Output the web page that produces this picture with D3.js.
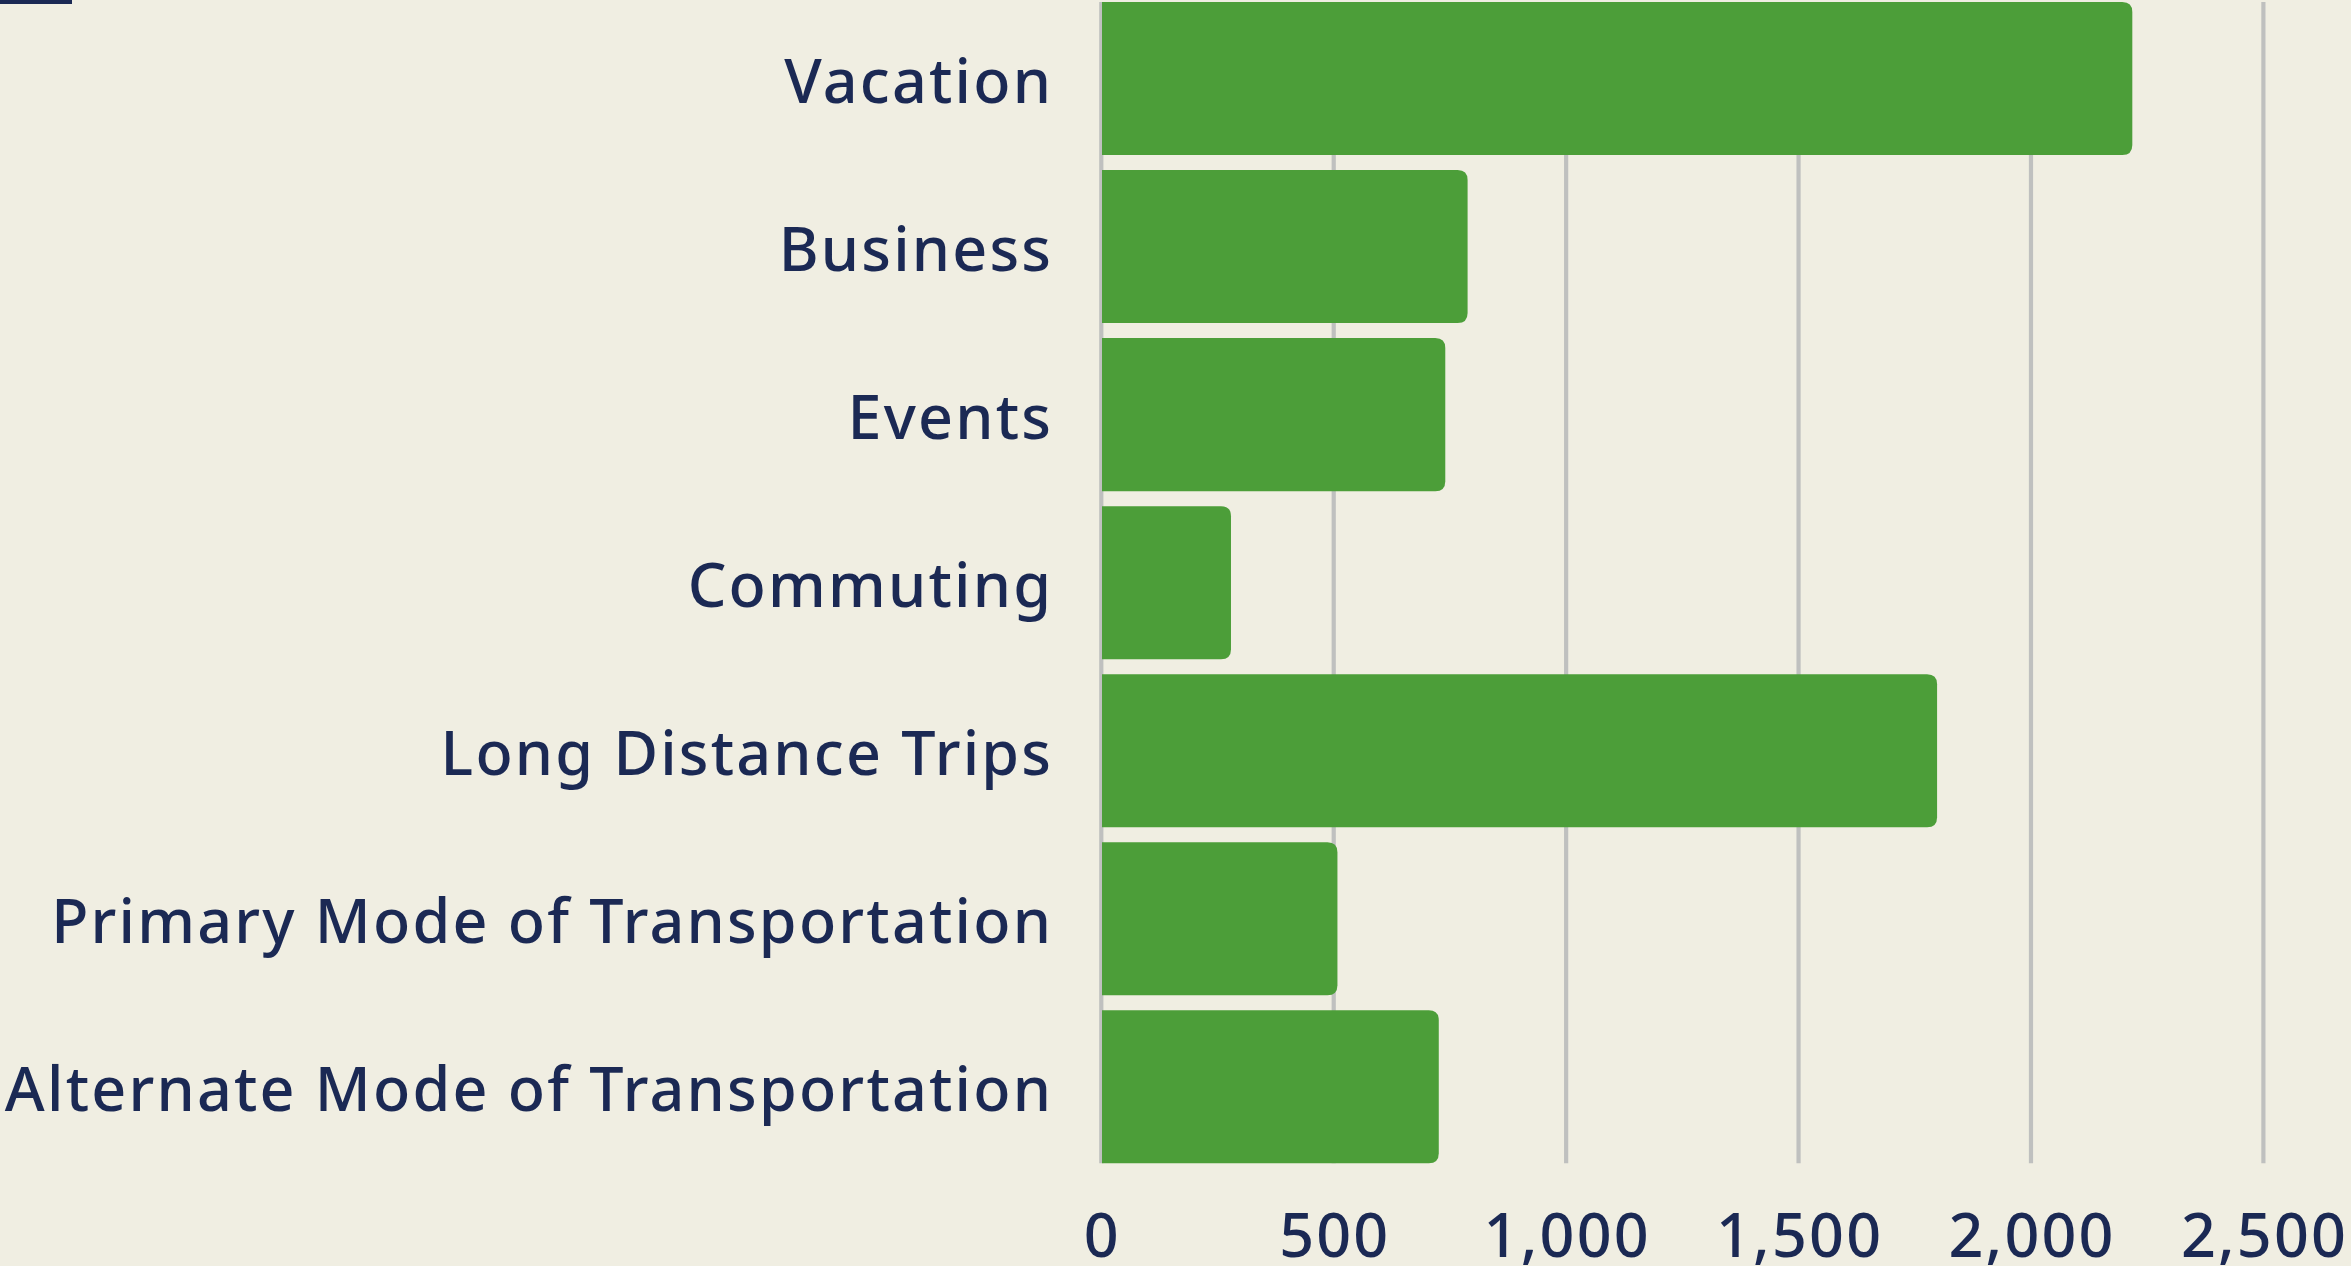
<!DOCTYPE html>
<html>
<head>
<meta charset="utf-8">
<script src="https://cdn.jsdelivr.net/npm/d3@7"></script>
<style>
  html, body { margin: 0; padding: 0; background: #f0eee2; }
  svg { display: block; }
</style>
</head>
<body>
<svg id="chart" width="2351" height="1266"></svg>
<script>
const categories = [
  "Vacation",
  "Business",
  "Events",
  "Commuting",
  "Long Distance Trips",
  "Primary Mode of Transportation",
  "Alternate Mode of Transportation"
];
const values = [2218, 788, 740, 279, 1798, 508, 726];
const tickValues = [0, 500, 1000, 1500, 2000, 2500];
const tickLabels = ["0", "500", "1,000", "1,500", "2,000", "2,500"];

const W = 2351, H = 1266;
const svg = d3.select("#chart");
const bg = "#f0eee2", green = "#4c9e39", navy = "#1b2954", gridColor = "#bfc0bf";
const fontFamily = "'Noto Sans', 'Open Sans', sans-serif";

svg.append("rect").attr("width", W).attr("height", H).attr("fill", bg);
// small dark accent at top-left
svg.append("rect").attr("x", 0).attr("y", 0).attr("width", 72).attr("height", 4).attr("fill", navy);

const x = d3.scaleLinear().domain([0, 2500]).range([1101.3, 2263.4]);
const y = d3.scaleBand().domain(categories).range([2, 1163.3]).paddingInner(15 / 168).paddingOuter(0);

// gridlines
svg.append("g").selectAll("line").data(tickValues).join("line")
  .attr("x1", d => x(d)).attr("x2", d => x(d))
  .attr("y1", 2).attr("y2", 1163.3)
  .attr("stroke", gridColor).attr("stroke-width", 4.2);

// bars with rounded right corners
const r = 10;
function barPath(x0, x1, y0, h) {
  const rr = Math.min(r, (x1 - x0) / 2, h / 2);
  return `M${x0},${y0} H${x1 - rr} Q${x1},${y0} ${x1},${y0 + rr} V${y0 + h - rr} Q${x1},${y0 + h} ${x1 - rr},${y0 + h} H${x0} Z`;
}
svg.append("g").selectAll("path").data(categories).join("path")
  .attr("d", (c, i) => barPath(x(0) + 0.7, x(values[i]), y(c), y.bandwidth()))
  .attr("fill", green);

// category labels
const fontSize = 61;
const ls = 2.2;
svg.append("g").selectAll("text").data(categories).join("text")
  .attr("x", 1051 + ls)
  .attr("y", c => y(c) + y.bandwidth() / 2 + 24)
  .attr("text-anchor", "end")
  .attr("font-family", fontFamily)
  .attr("font-weight", 500)
  .attr("font-size", fontSize)
  .attr("letter-spacing", ls)
  .attr("fill", navy)
  .text(c => c);

// x axis tick labels
svg.append("g").selectAll("text").data(tickValues).join("text")
  .attr("x", d => x(d) + ls / 2)
  .attr("y", 1256.5)
  .attr("text-anchor", "middle")
  .attr("font-family", fontFamily)
  .attr("font-weight", 500)
  .attr("font-size", fontSize)
  .attr("letter-spacing", ls)
  .attr("fill", navy)
  .text((d, i) => tickLabels[i]);
</script>
</body>
</html>
